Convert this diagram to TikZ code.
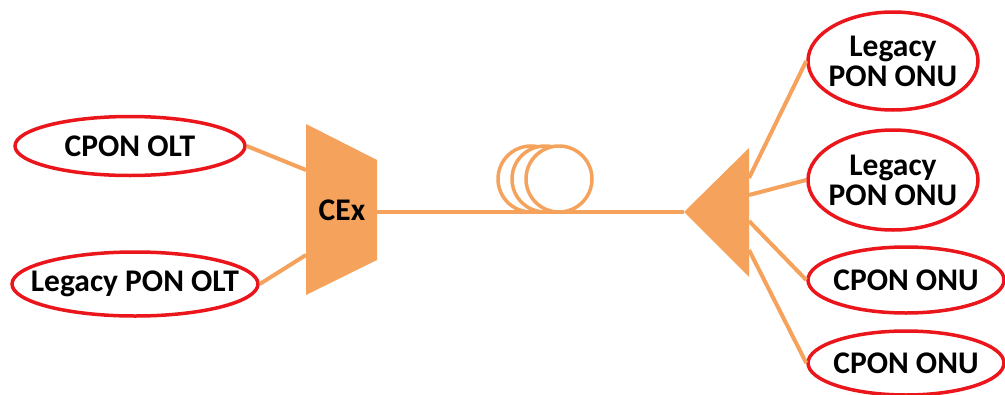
\documentclass[tikz,border=0pt]{standalone}
\usepackage{fontspec}
\setmainfont{Carlito}
\usetikzlibrary{shapes.geometric}
\definecolor{fiber}{RGB}{244,162,92}
\definecolor{ringred}{RGB}{234,22,28}

\begin{document}
\begin{tikzpicture}[x=1pt, y=-1pt,
        lbl/.style  = {font=\fontsize{31.5}{30}\selectfont\bfseries, align=center, inner sep=0pt},
        term/.style = {draw=ringred, line width=3.5pt, ellipse, inner sep=0pt,
                       label={[lbl]center:#1}},
        link/.style = {draw=fiber, line width=4pt},
        coil/.style = {draw=fiber, line width=3.5pt, fill=white, circle, minimum size=66pt, inner sep=0pt}]
    \useasboundingbox (0,0) rectangle (1005,394);

    % head end
    \node[term={CPON OLT}, minimum width=230pt, minimum height=59pt] (cponolt) at (130,146) {};
    \node[term={Legacy PON OLT}, minimum width=246pt, minimum height=64pt] (legolt) at (135,284) {};

    % coexistence element
    \fill[fiber] (306,124) -- (377,160) -- (377,260) -- (306,295) -- cycle;
    \node[lbl] (cex) at (342,210) {CEx};
    \coordinate (cexA) at (306,170);
    \coordinate (cexB) at (306,255);
    \coordinate (cexOut) at (377,212);

    % splitter
    \fill[fiber] (684,212) coordinate (split) -- (749,148) -- (749,277) -- cycle;
    \coordinate (sp1) at (749,178);
    \coordinate (sp2) at (749,195);
    \coordinate (sp3) at (749,221);
    \coordinate (sp4) at (749,250);

    % trunk fibre and its spool
    \draw[link] (cexOut) -- (split);
    \node[coil] (spoolA) at (531,179) {};
    \node[coil] (spoolB) at (545,179) {};
    \node[coil] (spoolC) at (559,179) {};

    % user end
    \node[term={{Legacy\\PON ONU}}, minimum width=170pt, minimum height=98pt] (legonu1) at (893,61) {};
    \node[term={{Legacy\\PON ONU}}, minimum width=170pt, minimum height=100pt] (legonu2) at (893,180) {};
    \node[term={CPON ONU}, minimum width=196pt, minimum height=66pt] (cponu1) at (906,280) {};
    \node[term={CPON ONU}, minimum width=196pt, minimum height=64pt] (cponu2) at (906,363) {};

    \draw[link] (cponolt.east) -- (cexA);
    \draw[link] (legolt.east) -- (cexB);
    \draw[link] (sp1) -- (legonu1.west);
    \draw[link] (sp2) -- (legonu2.west);
    \draw[link] (sp3) -- (cponu1.west);
    \draw[link] (sp4) -- (cponu2.west);
\end{tikzpicture}
\end{document}
